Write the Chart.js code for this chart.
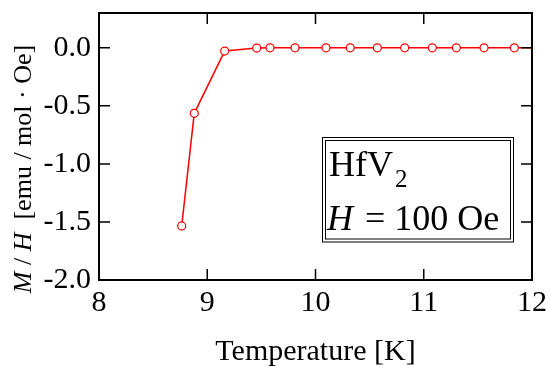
<!DOCTYPE html>
<html><head><meta charset="utf-8">
<script src="https://cdn.jsdelivr.net/npm/chart.js@4/dist/chart.umd.min.js"></script>
<style>html,body{margin:0;padding:0;background:#fff}</style>
</head><body>
<canvas id="c" width="550" height="367"></canvas>
<script>
const temperature = [8.764, 8.880, 9.161, 9.457, 9.580, 9.811, 10.097, 10.321, 10.571, 10.824, 11.079, 11.301, 11.557, 11.837, 12.10];
const mOverH      = [-1.534, -0.564, -0.028, -0.002, 0.0, 0.0, 0.0, 0.0, 0.0, 0.0, 0.0, 0.0, 0.0, 0.0, 0.0];
const xTicks = [8, 9, 10, 11, 12];
const yTicks = [-2.0, -1.5, -1.0, -0.5, 0.0];
const xTitle = 'Temperature [K]';
const yTitleParts = [['M', true], [' / ', false], ['H', true], ['  [emu / mol · Oe]', false]];
const labelCompound = ['HfV', '2'];
const labelField = ['H', ' = 100 Oe'];

const FAM = "'Liberation Serif', 'Times New Roman', serif";
Chart.defaults.font.family = FAM;
Chart.defaults.color = '#000';

const framePlugin = {
  id: 'frame',
  afterDraw(chart) {
    const ctx = chart.ctx;
    const a = chart.chartArea;
    const xs = chart.scales.x, ys = chart.scales.y;
    ctx.save();
    ctx.strokeStyle = '#000';
    ctx.lineWidth = 2;
    ctx.strokeRect(a.left, a.top, a.right - a.left, a.bottom - a.top);
    const TL = 11;
    ctx.lineWidth = 1.5;
    ctx.beginPath();
    xTicks.forEach(v => {
      const p = xs.getPixelForValue(v);
      ctx.moveTo(p, a.bottom); ctx.lineTo(p, a.bottom - TL);
      ctx.moveTo(p, a.top); ctx.lineTo(p, a.top + TL);
    });
    yTicks.forEach(v => {
      const p = ys.getPixelForValue(v);
      ctx.moveTo(a.left, p); ctx.lineTo(a.left + TL, p);
      ctx.moveTo(a.right, p); ctx.lineTo(a.right - TL, p);
    });
    ctx.stroke();

    // y axis title (rotated, mixed italic)
    ctx.fillStyle = '#000';
    ctx.textBaseline = 'alphabetic';
    ctx.textAlign = 'left';
    const ySize = 26;
    const fonts = yTitleParts.map(p => (p[1] ? 'italic ' : '') + ySize + 'px ' + FAM);
    let total = 0;
    const widths = yTitleParts.map((p, i) => { ctx.font = fonts[i]; const w = ctx.measureText(p[0]).width; total += w; return w; });
    ctx.translate(31, 169);
    ctx.rotate(-Math.PI / 2);
    let x = -total / 2;
    yTitleParts.forEach((p, i) => { ctx.font = fonts[i]; ctx.fillText(p[0], x, 0); x += widths[i]; });
    ctx.restore();

    // annotation box
    ctx.save();
    const bx = 322.5, by = 137.5, bw = 191, bh = 104.5;
    ctx.fillStyle = '#fff';
    ctx.fillRect(bx, by, bw, bh);
    ctx.strokeStyle = '#000';
    ctx.lineWidth = 1;
    ctx.strokeRect(bx, by, bw, bh);
    ctx.strokeRect(bx + 3, by + 3, bw - 6, bh - 6);
    ctx.fillStyle = '#000';
    ctx.textAlign = 'left';
    ctx.textBaseline = 'alphabetic';
    ctx.font = '36px ' + FAM;
    ctx.fillText(labelCompound[0], 329, 176);
    const w1 = ctx.measureText(labelCompound[0]).width;
    ctx.font = '25px ' + FAM;
    ctx.fillText(labelCompound[1], 329 + w1 + 2, 187);
    ctx.font = 'italic 36px ' + FAM;
    ctx.fillText(labelField[0], 327, 230);
    const w2 = ctx.measureText(labelField[0]).width;
    ctx.font = '36px ' + FAM;
    ctx.fillText(labelField[1], 327 + w2 + 3, 230);
    ctx.restore();
  }
};

new Chart(document.getElementById('c'), {
  type: 'line',
  data: {
    datasets: [{
      data: temperature.map((t, i) => ({ x: t, y: mOverH[i] })),
      borderColor: '#ff0000',
      borderWidth: 1.5,
      pointRadius: 4,
      pointBorderWidth: 1.2,
      pointBorderColor: '#ff0000',
      pointBackgroundColor: '#ffffff',
      tension: 0,
      fill: false
    }]
  },
  options: {
    responsive: false,
    animation: false,
    devicePixelRatio: 1,
    layout: { padding: { top: 13, right: 18, left: 0, bottom: 0 } },
    plugins: { legend: { display: false }, tooltip: { enabled: false } },
    scales: {
      x: {
        type: 'linear', min: 8, max: 12,
        afterBuildTicks: s => { s.ticks = xTicks.map(v => ({ value: v })); },
        afterFit: s => { s.height = 87; s.paddingLeft = 0; s.paddingRight = 0; },
        grid: { display: false, drawTicks: false },
        border: { display: false },
        ticks: { padding: 8, color: '#000', autoSkip: false, maxRotation: 0,
          font: { family: FAM, size: 30, lineHeight: 1 }, callback: v => String(v) },
        title: { display: true, text: xTitle, color: '#000', padding: 0,
          font: { family: FAM, size: 30, lineHeight: 1 } }
      },
      y: {
        type: 'linear', min: -2, max: 0.3,
        afterBuildTicks: s => { s.ticks = yTicks.map(v => ({ value: v })); },
        afterFit: s => { s.width = 99; s.paddingTop = 0; s.paddingBottom = 0; },
        grid: { display: false, drawTicks: false },
        border: { display: false },
        ticks: { padding: 8, color: '#000', autoSkip: false,
          font: { family: FAM, size: 30, lineHeight: 1 }, callback: v => Number(v).toFixed(1) }
      }
    }
  },
  plugins: [framePlugin]
});
</script>
</body></html>
